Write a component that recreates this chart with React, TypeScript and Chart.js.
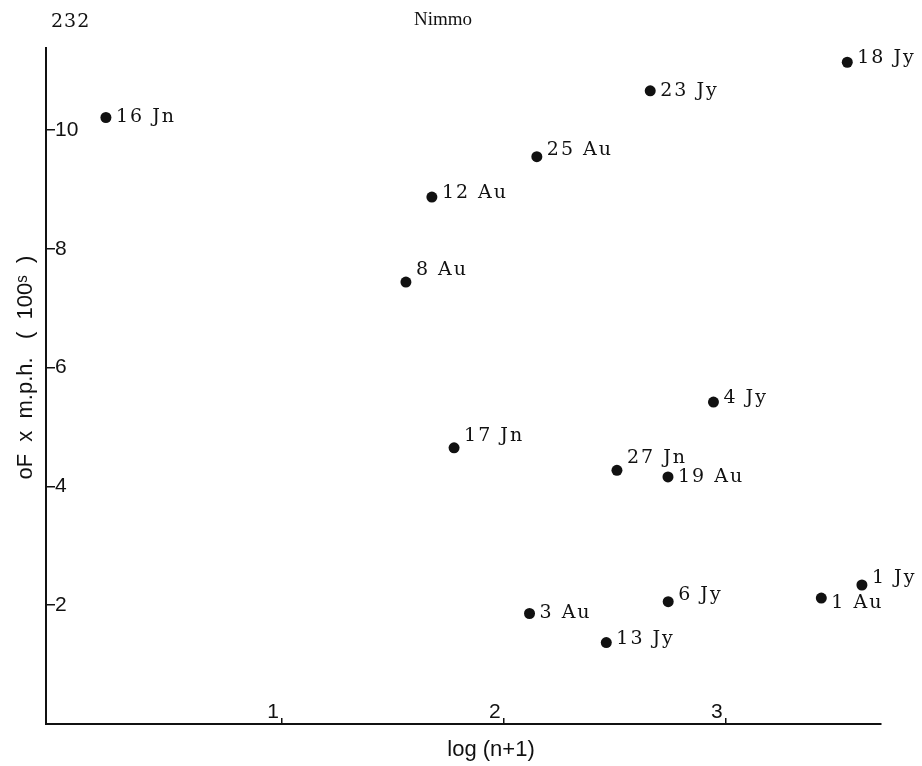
import React, { useEffect, useRef } from 'react';
import { Chart, registerables } from 'chart.js';

Chart.register(...registerables);

// ---- data ----
const dateLabels = ['16 Jn', '18 Jy', '23 Jy', '25 Au', '12 Au', '8 Au', '4 Jy', '17 Jn', '27 Jn', '19 Au', '3 Au', '6 Jy', '13 Jy', '1 Au', '1 Jy'];
const logNPlus1 = [0.207, 3.548, 2.660, 2.149, 1.676, 1.559, 2.945, 1.776, 2.510, 2.740, 2.116, 2.741, 2.462, 3.431, 3.614];
const degFMph = [10.21, 11.14, 10.66, 9.55, 8.87, 7.44, 5.42, 4.65, 4.27, 4.16, 1.86, 2.06, 1.37, 2.12, 2.34];
const labelPlacement = ['level', 'raised', 'level', 'up', 'raised', 'high', 'raised', 'high', 'high', 'level', 'level', 'up', 'raised', 'low', 'up'];
const xTickValues = [1, 2, 3];
const yTickValues = [2, 4, 6, 8, 10];
const xRange = [-0.063, 3.70];
const yRange = [0, 11.38];
const xTitle = 'log (n+1)';
const yTitle = 'oF  x  m.p.h.   (  100ˢ  )';
const pageNumber = '232';
const runningHead = 'Nimmo';

// ---- styles ----
const INK = '#111';
const SANS = '"Liberation Sans", Arial, sans-serif';
const placementOffset: Record<string, number> = { level: 0, raised: -4, up: -7, high: -12, low: 5 };
const LABEL_DX = 10;
// leading pad shifts the centred axis titles to where the original sets them
const padLead = (t: string, n: number) => ' '.repeat(n) + t;

const pointLabelPlugin = {
  id: 'pointLabels',
  afterDatasetsDraw(chart: any) {
    const meta = chart.getDatasetMeta(0);
    const ctx = chart.ctx as CanvasRenderingContext2D;
    ctx.save();
    ctx.font = '19px "DejaVu Serif"';
    (ctx as any).letterSpacing = '2px';
    ctx.fillStyle = INK;
    ctx.textBaseline = 'middle';
    ctx.textAlign = 'left';
    meta.data.forEach((pt: any, i: number) => {
      const dy = placementOffset[labelPlacement[i]] ?? 0;
      ctx.fillText(dateLabels[i], pt.x + LABEL_DX, pt.y + dy);
    });
    ctx.restore();
  },
};

export default function App() {
  const canvasRef = useRef<HTMLCanvasElement | null>(null);

  useEffect(() => {
    document.body.style.margin = '0';
    const canvas = canvasRef.current;
    if (!canvas) return;
    const chart = new Chart(canvas, {
      type: 'scatter',
      data: {
        datasets: [
          {
            label: 'observations',
            data: logNPlus1.map((x, i) => ({ x, y: degFMph[i] })),
            backgroundColor: INK,
            borderWidth: 0,
            pointRadius: 5.5,
            pointHoverRadius: 5.5,
          },
        ],
      },
      options: {
        animation: false,
        responsive: false,
        events: [],
        layout: { padding: { top: 48, right: 41, bottom: 0, left: 0 } },
        plugins: {
          legend: { display: false },
          tooltip: { enabled: false },
        },
        scales: {
          x: {
            type: 'linear',
            position: 'bottom',
            min: xRange[0],
            max: xRange[1],
            afterBuildTicks: (s: any) => {
              s.ticks = xTickValues.map((v) => ({ value: v }));
            },
            afterFit: (s: any) => {
              s.height = 42;
            },
            ticks: {
              mirror: true,
              align: 'end',
              labelOffset: -3,
              padding: -1,
              maxRotation: 0,
              autoSkip: false,
              color: INK,
              font: { family: SANS, size: 21 },
            },
            grid: { drawOnChartArea: false, drawTicks: true, tickLength: -6, color: INK, lineWidth: 1.5 },
            border: { display: true, color: INK, width: 2 },
            title: {
              display: true,
              text: padLead(xTitle, 9),
              color: INK,
              font: { family: SANS, size: 22 },
              padding: { top: 0, bottom: 3 },
            },
          },
          y: {
            type: 'linear',
            position: 'left',
            min: yRange[0],
            max: yRange[1],
            afterBuildTicks: (s: any) => {
              s.ticks = yTickValues.map((v) => ({ value: v }));
            },
            afterFit: (s: any) => {
              s.width = 46;
            },
            ticks: {
              mirror: true,
              padding: 9,
              color: INK,
              font: { family: SANS, size: 21 },
            },
            grid: { drawOnChartArea: false, drawTicks: true, tickLength: -9, color: INK, lineWidth: 1.5 },
            border: { display: true, color: INK, width: 2 },
            title: {
              display: true,
              text: padLead(yTitle, 6),
              color: INK,
              font: { family: SANS, size: 22 },
              padding: { top: 13, bottom: 0 },
            },
          },
        },
      } as any,
      plugins: [pointLabelPlugin],
    });
    return () => chart.destroy();
  }, []);

  return (
    <div style={{ position: 'relative', width: 922, height: 766, overflow: 'hidden', background: '#fff' }}>
      <div
        style={{
          position: 'absolute',
          left: 51,
          top: 11,
          font: '19px "DejaVu Serif", serif',
          letterSpacing: '1px',
          lineHeight: '19px',
          color: INK,
        }}
      >
        {pageNumber}
      </div>
      <div
        style={{
          position: 'absolute',
          left: 414,
          top: 9,
          font: '19px "Liberation Serif", serif',
          lineHeight: '19px',
          color: INK,
        }}
      >
        {runningHead}
      </div>
      <canvas ref={canvasRef} width={922} height={766} style={{ display: 'block', width: 922, height: 766 }} />
    </div>
  );
}
